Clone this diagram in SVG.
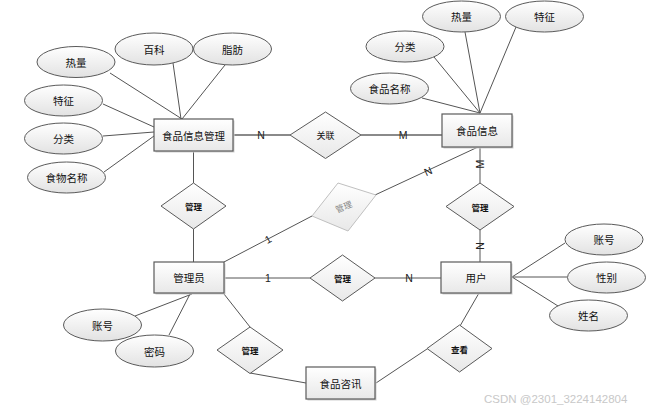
<svg xmlns="http://www.w3.org/2000/svg" width="654" height="413" viewBox="0 0 654 413">
<style>
.bg{fill:#ffffff}
.ln{stroke:#555555;stroke-width:1;fill:none}
.lnb{stroke:#8a8a8a;stroke-width:1.8;fill:none}
.ell{fill:url(#gE);stroke:#5a5a5a;stroke-width:1}
.ent{fill:url(#gR);stroke:#5a5a5a;stroke-width:1.2}
.shd{fill:#d0d0d0}
.dia{fill:url(#gR);stroke:#5a5a5a;stroke-width:1}
.fdia{fill:url(#gR);stroke:#c0c0c0;stroke-width:1}
.t{font-family:"Noto Sans CJK SC","Liberation Sans",sans-serif;font-size:10.5px;fill:#111;text-anchor:middle;dominant-baseline:central}
.td{font-family:"Noto Sans CJK SC","Liberation Sans",sans-serif;font-size:8.5px;font-weight:bold;fill:#111;text-anchor:middle;dominant-baseline:central}
.tr{font-family:"Noto Sans CJK SC","Liberation Sans",sans-serif;font-size:9px;fill:#111;text-anchor:middle;dominant-baseline:central}
.tf{font-family:"Noto Sans CJK SC","Liberation Sans",sans-serif;font-size:8.5px;fill:#888;text-anchor:middle;dominant-baseline:central}
.c{font-family:"Liberation Sans",Arial,sans-serif;font-size:10.5px;fill:#222;text-anchor:middle;dominant-baseline:central}
.wm{font-family:"Liberation Sans",Arial,sans-serif;font-size:11.5px;fill:#c8c8c8}
</style>
<defs>
<linearGradient id="gE" x1="0" y1="0" x2="0" y2="1">
<stop offset="0" stop-color="#ffffff"/>
<stop offset="1" stop-color="#e2e2e2"/>
</linearGradient>
<linearGradient id="gR" x1="0" y1="0" x2="0" y2="1">
<stop offset="0" stop-color="#ffffff"/>
<stop offset="1" stop-color="#e8e8e8"/>
</linearGradient>
</defs>
<rect class="bg" x="0" y="0" width="654" height="413"/>

<g id="connectors">
<line class="ln" x1="110" y1="73" x2="182" y2="119"/>
<line class="ln" x1="173" y1="63" x2="181" y2="119"/>
<line class="ln" x1="225" y1="65" x2="182" y2="119"/>
<line class="ln" x1="103" y1="104" x2="154" y2="127"/>
<line class="ln" x1="103" y1="136" x2="154" y2="132"/>
<line class="ln" x1="104" y1="172" x2="154" y2="136"/>
<line class="ln" x1="465" y1="32" x2="480" y2="113"/>
<line class="ln" x1="516" y1="27" x2="480" y2="113"/>
<line class="ln" x1="434" y1="57" x2="480" y2="113"/>
<line class="ln" x1="422" y1="98" x2="480" y2="113"/>
<line class="lnb" x1="233" y1="135" x2="290" y2="135"/>
<line class="lnb" x1="361" y1="135" x2="442" y2="135"/>
<line class="ln" x1="193.5" y1="151" x2="193.5" y2="183"/>
<line class="ln" x1="193.5" y1="229" x2="193.5" y2="262"/>
<line class="ln" x1="478" y1="147" x2="375" y2="195"/>
<line class="ln" x1="312" y1="216" x2="224" y2="262"/>
<line class="ln" x1="480" y1="147" x2="480" y2="183"/>
<line class="ln" x1="480" y1="230" x2="480" y2="262"/>
<line class="ln" x1="224" y1="278" x2="310" y2="278"/>
<line class="ln" x1="375" y1="278" x2="441" y2="278"/>
<line class="ln" x1="512" y1="277" x2="565" y2="243"/>
<line class="ln" x1="512" y1="277" x2="567" y2="277"/>
<line class="ln" x1="512" y1="277" x2="558" y2="306"/>
<line class="ln" x1="192" y1="294" x2="135" y2="316"/>
<line class="ln" x1="190" y1="294" x2="169" y2="335"/>
<line class="ln" x1="224" y1="294" x2="250" y2="327"/>
<line class="ln" x1="250" y1="373" x2="306" y2="383"/>
<line class="ln" x1="479" y1="293" x2="460" y2="326"/>
<line class="ln" x1="427" y1="349" x2="376" y2="383"/>
<text class="c" x="261" y="135">N</text>
<text class="c" x="403" y="135">M</text>
<text class="c" transform="translate(480,164) rotate(-90)">M</text>
<text class="c" transform="translate(428,171) rotate(-25)">N</text>
<text class="c" transform="translate(268,239) rotate(-28)">1</text>
<text class="c" x="268" y="278">1</text>
<text class="c" x="409" y="278">N</text>
<text class="c" transform="translate(480,246) rotate(-90)">N</text>
</g>

<g id="attr-food-mgmt-heat"><ellipse class="ell" cx="76" cy="62" rx="39" ry="15.5"/><text class="t" x="76" y="62">热量</text></g>
<g id="attr-food-mgmt-wiki"><ellipse class="ell" cx="154" cy="49" rx="39" ry="16"/><text class="t" x="154" y="49">百科</text></g>
<g id="attr-food-mgmt-fat"><ellipse class="ell" cx="232.5" cy="49" rx="39" ry="16"/><text class="t" x="232.5" y="49">脂肪</text></g>
<g id="attr-food-mgmt-feature"><ellipse class="ell" cx="63.5" cy="100.5" rx="39" ry="15.5"/><text class="t" x="63.5" y="100.5">特征</text></g>
<g id="attr-food-mgmt-category"><ellipse class="ell" cx="63.5" cy="138.5" rx="39" ry="15.5"/><text class="t" x="63.5" y="138.5">分类</text></g>
<g id="attr-food-mgmt-name"><ellipse class="ell" cx="66.5" cy="177.5" rx="39" ry="15.5"/><text class="t" x="66.5" y="177.5">食物名称</text></g>

<g id="attr-food-heat"><ellipse class="ell" cx="461.5" cy="16.5" rx="39" ry="15.5"/><text class="t" x="461.5" y="16.5">热量</text></g>
<g id="attr-food-feature"><ellipse class="ell" cx="544.5" cy="16.5" rx="39" ry="15.5"/><text class="t" x="544.5" y="16.5">特征</text></g>
<g id="attr-food-category"><ellipse class="ell" cx="405" cy="46.5" rx="39" ry="15.5"/><text class="t" x="405" y="46.5">分类</text></g>
<g id="attr-food-name"><ellipse class="ell" cx="389.5" cy="88.5" rx="39" ry="15.5"/><text class="t" x="389.5" y="88.5">食品名称</text></g>

<g id="entity-food-mgmt"><rect class="shd" x="155.5" y="120.5" width="79" height="32"/><rect class="ent" x="154" y="119" width="79" height="32"/><text class="t" x="193.5" y="135">食品信息管理</text></g>
<g id="entity-food"><rect class="shd" x="443.5" y="115.5" width="70" height="33"/><rect class="ent" x="442" y="114" width="70" height="33"/><text class="t" x="477" y="130.5">食品信息</text></g>
<g id="entity-admin"><rect class="shd" x="155.5" y="263.5" width="70" height="31"/><rect class="ent" x="154" y="262" width="70" height="31"/><text class="t" x="189" y="277.5">管理员</text></g>
<g id="entity-user"><rect class="shd" x="442.5" y="263.5" width="70" height="31"/><rect class="ent" x="441" y="262" width="70" height="31"/><text class="t" x="476" y="277.5">用户</text></g>
<g id="entity-news"><rect class="shd" x="307.5" y="368.5" width="69" height="32"/><rect class="ent" x="306" y="367" width="69" height="32"/><text class="t" x="340.5" y="383">食品咨讯</text></g>

<g id="rel-associate"><polygon class="dia" points="325.5,112 361,135 325.5,158.5 290,135"/><text class="tr" x="325.5" y="135">关联</text></g>
<g id="rel-manage-left"><polygon class="dia" points="193.5,183 226,206 193.5,229 161,206"/><text class="td" x="193.5" y="206">管理</text></g>
<g id="rel-manage-faded"><polygon class="fdia" points="338,183 376,195 348,231 312,216"/><text class="tf" transform="translate(343.5,206) rotate(-22)">管理</text></g>
<g id="rel-manage-right"><polygon class="dia" points="480,183 514,206.5 480,230 446,206.5"/><text class="td" x="480" y="206.5">管理</text></g>
<g id="rel-manage-mid"><polygon class="dia" points="342.5,255 375,278 342.5,301 310,278"/><text class="td" x="342.5" y="278">管理</text></g>
<g id="rel-manage-bottom"><polygon class="dia" points="250,327 283,350 250,373.5 217,350"/><text class="td" x="250" y="350">管理</text></g>
<g id="rel-view"><polygon class="dia" points="459.5,325 492,348.5 459.5,372 427,348.5"/><text class="td" x="459.5" y="348.5">查看</text></g>

<g id="attr-user-account"><ellipse class="ell" cx="604" cy="239.5" rx="39" ry="15.5"/><text class="t" x="604" y="239.5">账号</text></g>
<g id="attr-user-gender"><ellipse class="ell" cx="606.5" cy="277.5" rx="39" ry="15.5"/><text class="t" x="606.5" y="277.5">性别</text></g>
<g id="attr-user-name"><ellipse class="ell" cx="588.5" cy="315.5" rx="39" ry="15.5"/><text class="t" x="588.5" y="315.5">姓名</text></g>

<g id="attr-admin-account"><ellipse class="ell" cx="102.5" cy="325" rx="39" ry="16"/><text class="t" x="102.5" y="325">账号</text></g>
<g id="attr-admin-password"><ellipse class="ell" cx="154.5" cy="351" rx="39" ry="16"/><text class="t" x="154.5" y="351">密码</text></g>

<text class="wm" x="484" y="403">CSDN @2301_3224142804</text>
</svg>
